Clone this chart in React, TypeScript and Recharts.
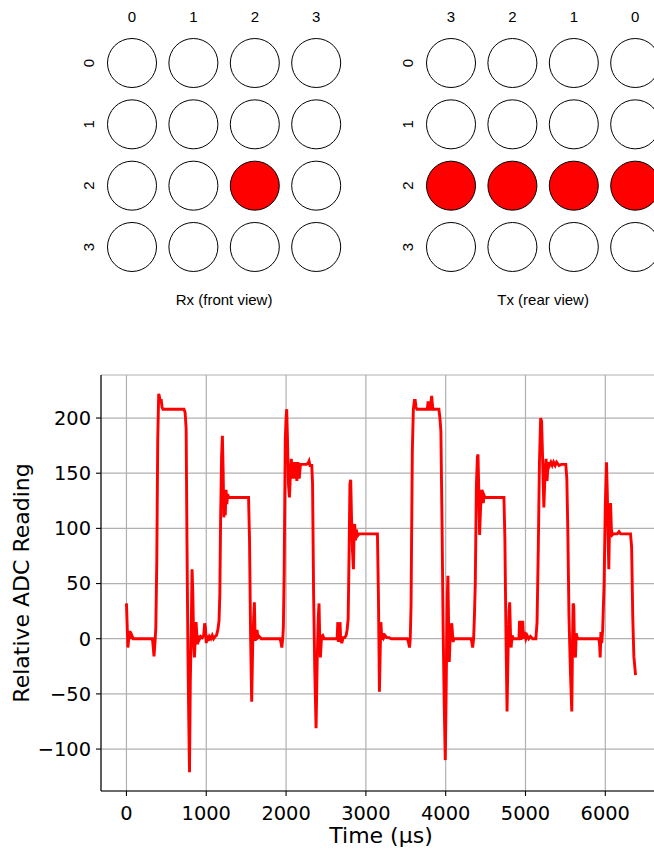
import React from 'react';
import {
  LineChart,
  Line,
  XAxis,
  YAxis,
  CartesianGrid,
  ScatterChart,
  Scatter,
} from 'recharts';

// ---- Electrode pad layout (4 x 4) ----
const padRows = [0, 1, 2, 3];
const padCols = [0, 1, 2, 3];
// active pads as [row, col]
const rxActivePads = [[2, 2]];
const txActivePads = [[2, 0], [2, 1], [2, 2], [2, 3]];

// ---- Captured trace ----
const timeUs = [
  0, 18, 30, 42, 55, 68, 85, 325, 336, 345, 358, 368, 380, 392, 404, 414, 424, 434, 446, 458,
  720, 735, 748, 758, 770, 780, 790, 800, 812, 822, 832, 842, 852, 862, 872, 882, 892, 904, 918, 932,
  950, 968, 980, 990, 1000, 1012, 1025, 1040, 1058, 1075, 1092, 1110, 1128, 1145, 1160, 1170, 1180, 1192, 1202, 1212,
  1220, 1230, 1238, 1248, 1258, 1268, 1280, 1530, 1542, 1556, 1569, 1582, 1595, 1603, 1613, 1625, 1636, 1648, 1665, 1690,
  1925, 1938, 1947, 1958, 1966, 1976, 1990, 2000, 2008, 2018, 2030, 2042, 2055, 2066, 2078, 2090, 2105, 2118, 2135, 2150,
  2165, 2180, 2255, 2275, 2288, 2300, 2322, 2332, 2345, 2360, 2376, 2390, 2404, 2413, 2422, 2430, 2445, 2460, 2478, 2640,
  2648, 2655, 2662, 2669, 2676, 2684, 2698, 2715, 2735, 2752, 2765, 2778, 2790, 2800, 2810, 2820, 2832, 2844, 2852, 2860,
  2870, 2880, 2893, 2915, 3145, 3157, 3170, 3180, 3188, 3196, 3204, 3213, 3225, 3240, 3262, 3290, 3320, 3520, 3533, 3547,
  3556, 3566, 3582, 3595, 3608, 3618, 3628, 3640, 3770, 3780, 3790, 3805, 3815, 3825, 3833, 3840, 3915, 3928, 3940, 3955,
  3968, 3982, 3995, 4004, 4013, 4021, 4028, 4037, 4045, 4055, 4066, 4076, 4085, 4093, 4103, 4320, 4330, 4338, 4350, 4360,
  4371, 4385, 4398, 4405, 4413, 4425, 4438, 4452, 4463, 4471, 4481, 4493, 4730, 4742, 4756, 4769, 4782, 4795, 4802, 4812,
  4820, 4832, 4848, 4918, 4925, 4934, 4944, 4956, 4966, 4976, 4990, 5005, 5020, 5040, 5062, 5090, 5130, 5145, 5160, 5175,
  5190, 5202, 5214, 5230, 5245, 5258, 5270, 5285, 5300, 5318, 5335, 5352, 5372, 5390, 5420, 5450, 5505, 5518, 5530, 5545,
  5563, 5580, 5590, 5597, 5605, 5614, 5626, 5636, 5648, 5665, 5920, 5928, 5936, 5945, 5955, 5967, 5985, 6000, 6015, 6026,
  6036, 6044, 6055, 6066, 6076, 6086, 6100, 6150, 6172, 6192, 6316, 6330, 6344, 6358, 6379,
];

const adcReading = [
  32, -8, 2, 7, 0, 3, 0, 0, -8, -16, -3, 10, 70, 180, 222, 219, 214, 217, 210, 208,
  208, 205, 190, 90, -10, -70, -121, -40, 10, 63, 40, -5, -17, 0, 15, 3, -5, 3, 0, 2,
  1, 3, 14, 10, -4, 3, -2, 2, 0, 3, 0, 2, 3, 8, 16, 40, 110, 165, 184, 150,
  110, 125, 112, 135, 122, 131, 128, 128, 90, 0, -57, -5, 20, 33, -2, 5, 8, 1, 2, 0,
  0, -4, -8, 0, 10, 60, 180, 200, 208, 180, 140, 128, 150, 163, 145, 160, 145, 160, 143, 160,
  145, 158, 158, 159, 161, 157, 157, 140, 40, -30, -81, -20, 20, 32, 0, -17, 2, 3, 0, 0,
  15, -3, 15, -3, 15, 0, -4, 1, 1, 3, 8, 18, 80, 140, 144, 110, 80, 63, 95, 104,
  89, 99, 93, 95, 95, 40, -48, -10, 15, 4, -1, 5, 1, 3, 1, 1, 0, 0, -3, -8,
  0, 30, 170, 208, 216, 216, 210, 208, 208, 215, 208, 208, 214, 220, 212, 208, 208, 200, 188, 100,
  10, -60, -110, -60, 0, 40, 57, 10, -21, 0, 10, 14, 5, -3, 0, 0, -4, -8, 0, 20,
  50, 140, 165, 167, 140, 94, 120, 135, 129, 123, 130, 128, 128, 90, 0, -66, -10, 25, 33, 5,
  -8, 3, 0, 0, 15, 15, -1, 15, 15, 0, 6, 0, 3, 0, 2, 0, 0, 15, 80, 160,
  200, 197, 165, 119, 150, 163, 143, 160, 157, 160, 157, 160, 157, 160, 157, 158, 158, 145, 100, 20,
  -30, -66, 0, 32, 30, -10, -17, 5, 1, 0, 0, -5, -17, 6, -4, 8, 50, 120, 160, 130,
  90, 63, 110, 123, 100, 94, 95, 95, 97, 95, 95, 83, 20, -16, -33,
];

const timeTicks = [0, 1000, 2000, 3000, 4000, 5000, 6000];
const readingTicks = [-100, -50, 0, 50, 100, 150, 200];

const traceData = timeUs.map((t, i) => ({ t, v: adcReading[i] }));

const SANS = '"Liberation Sans", Arial, Helvetica, sans-serif';
const DEJAVU = '"DejaVu Sans", sans-serif';

const formatMinus = (n: number) => (n < 0 ? `\u2212${Math.abs(n)}` : `${n}`);

// ---- Pad grid pieces ----
const PadCircle = (props: any) => {
  const { cx, cy, payload } = props;
  return (
    <circle
      cx={cx}
      cy={cy}
      r={24.5}
      fill={payload.active ? '#ff0000' : '#ffffff'}
      stroke="#000000"
      strokeWidth={1}
    />
  );
};

const ColTick = (props: any) => {
  const { x, y, payload } = props;
  return (
    <text x={x} y={y} textAnchor="middle" fontSize={15} fontFamily={SANS} fill="#000">
      {payload.value}
    </text>
  );
};

const RowTick = (props: any) => {
  const { x, y, payload } = props;
  return (
    <text
      x={x}
      y={y}
      dy="0.36em"
      transform={`rotate(-90 ${x} ${y})`}
      textAnchor="middle"
      fontSize={15}
      fontFamily={SANS}
      fill="#000"
    >
      {payload.value}
    </text>
  );
};

function PadGrid({
  active,
  reversed,
  left,
  title,
}: {
  active: number[][];
  reversed: boolean;
  left: number;
  title: string;
}) {
  const points = padRows.flatMap((row) =>
    padCols.map((col) => ({
      row,
      col,
      active: active.some(([r, c]) => r === row && c === col),
    }))
  );
  return (
    <div style={{ position: 'absolute', left, top: 0, width: 360, height: 320 }}>
      <ScatterChart
        width={360}
        height={320}
        margin={{ top: 0, right: 13.1, bottom: 42.35, left: 0 }}
      >
        <XAxis
          type="number"
          dataKey="col"
          orientation="top"
          domain={[-0.5, 3.5]}
          ticks={padCols}
          interval={0}
          reversed={reversed}
          axisLine={false}
          tickLine={false}
          tickSize={0}
          tickMargin={10}
          height={32.35}
          tick={<ColTick />}
        />
        <YAxis
          type="number"
          dataKey="row"
          domain={[-0.5, 3.5]}
          ticks={padRows}
          interval={0}
          reversed
          axisLine={false}
          tickLine={false}
          tickSize={0}
          tickMargin={13}
          width={101.3}
          tick={<RowTick />}
        />
        <Scatter data={points} shape={PadCircle} isAnimationActive={false} />
      </ScatterChart>
      <svg
        width={360}
        height={320}
        style={{ position: 'absolute', left: 0, top: 0, pointerEvents: 'none' }}
      >
        <text x={224.1} y={305} textAnchor="middle" fontSize={15} fontFamily={SANS} fill="#000">
          {title}
        </text>
      </svg>
    </div>
  );
}

export default function App() {
  const axisStroke = { stroke: '#000000', strokeWidth: 1.1 };
  const tickFont = { fill: '#000000', fontSize: 19.4, fontFamily: DEJAVU };
  return (
    <div
      style={{
        position: 'absolute',
        left: 0,
        top: 0,
        width: 654,
        height: 849,
        overflow: 'hidden',
        background: '#ffffff',
      }}
    >
      <PadGrid active={rxActivePads} reversed={false} left={0} title="Rx (front view)" />
      <PadGrid active={txActivePads} reversed={true} left={319.25} title="Tx (rear view)" />

      <div style={{ position: 'absolute', left: 0, top: 330 }}>
        <LineChart
          width={680}
          height={519}
          data={traceData}
          margin={{ top: 45, right: 19, bottom: 0, left: 0 }}
        >
          <CartesianGrid stroke="#b0b0b0" strokeWidth={1.2} />
          <XAxis
            xAxisId="frame"
            orientation="top"
            type="number"
            dataKey="t"
            domain={[-319, 6698]}
            height={0}
            tick={false}
            tickLine={false}
            axisLine={axisStroke}
          />
          <XAxis
            type="number"
            dataKey="t"
            domain={[-319, 6698]}
            ticks={timeTicks}
            interval={0}
            height={58}
            tickSize={5}
            tickMargin={10}
            axisLine={axisStroke}
            tickLine={axisStroke}
            tick={tickFont}
          />
          <YAxis
            type="number"
            domain={[-138, 239]}
            ticks={readingTicks}
            interval={0}
            width={101}
            tickSize={5}
            tickMargin={5}
            axisLine={axisStroke}
            tickLine={axisStroke}
            tick={tickFont}
            tickFormatter={formatMinus}
          />
          <Line
            type="linear"
            dataKey="v"
            stroke="#ff0000"
            strokeWidth={2.9}
            dot={false}
            activeDot={false}
            isAnimationActive={false}
          />
        </LineChart>
      </div>

      <svg
        width={654}
        height={849}
        style={{ position: 'absolute', left: 0, top: 0, pointerEvents: 'none' }}
      >
        <text
          transform="translate(28.5 583) rotate(-90)"
          textAnchor="middle"
          fontSize={22}
          fontFamily={DEJAVU}
          fill="#000"
        >
          Relative ADC Reading
        </text>
        <text x={381} y={843} textAnchor="middle" fontSize={22} fontFamily={DEJAVU} fill="#000">
          Time (µs)
        </text>
      </svg>
    </div>
  );
}
